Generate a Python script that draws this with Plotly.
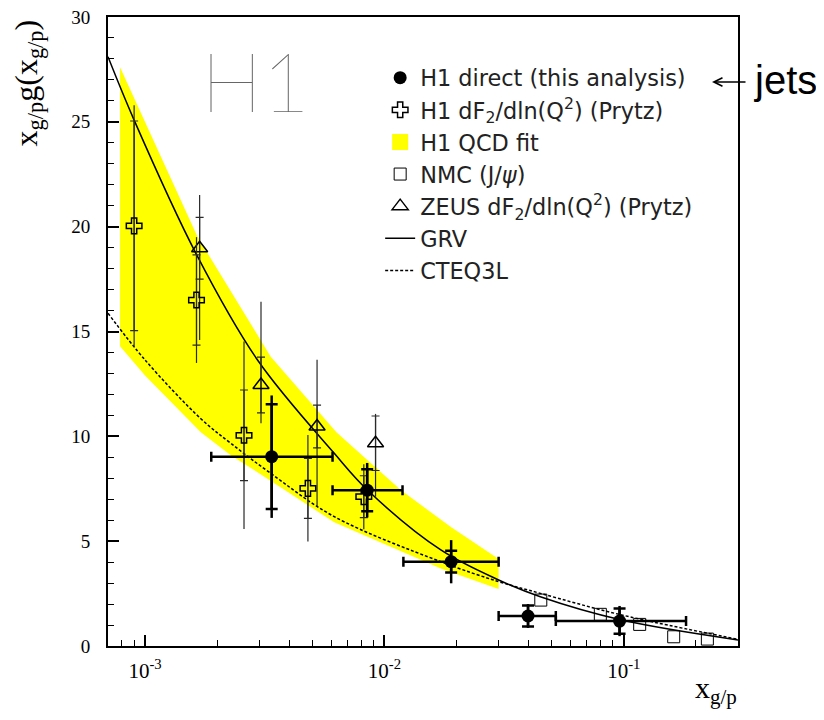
import plotly.graph_objects as go

# ---------------- data ----------------
# H1 direct (this analysis)
h1d_x = [3.38e-3, 8.47e-3, 1.90e-2, 3.98e-2, 9.6e-2]
h1d_y = [9.03, 7.43, 4.02, 1.43, 1.19]
h1d_xlo = [1.89e-3, 6.07e-3, 1.20e-2, 3.0e-2, 5.2e-2]
h1d_xhi = [6.07e-3, 1.19e-2, 3.0e-2, 5.2e-2, 1.82e-1]
h1d_stat = [2.5, 1.0, 0.52, 0.5, 0.6]
h1d_tot = [2.92, 1.3, 1.03, 0.57, 0.72]

# H1 dF2/dln(Q2) (Prytz)
h1p_x = [9.0e-4, 1.64e-3, 2.59e-3, 4.79e-3, 8.2e-3]
h1p_y = [20.04, 16.5, 10.05, 7.52, 7.12]
h1p_stat = [5.0, 2.15, 2.16, 1.43, 1.0]
h1p_tot = [5.75, 3.0, 4.47, 2.54, 1.55]

# ZEUS dF2/dln(Q2) (Prytz)
zeus_x = [1.69e-3, 3.05e-3, 5.23e-3, 9.18e-3]
zeus_y = [18.97, 12.45, 10.47, 9.67]
zeus_stat = [1.47, 1.33, 1.02, 1.3]
zeus_tot_plus = [2.54, 3.97, 3.18, 1.4]
zeus_tot_minus = [4.38, 1.83, 3.82, 2.55]

# NMC (J/psi)
nmc_x = [0.045, 0.0798, 0.1165, 0.1616, 0.2234]
nmc_y = [2.19, 1.51, 1.03, 0.44, 0.33]

# H1 QCD fit band
band_up_x = [7.86e-4, 1.656e-3, 3.35e-3, 6.3e-3, 1.17e-2, 1.895e-2, 3.0e-2]
band_up_y = [27.6, 19.52, 13.8, 10.2, 7.44, 5.67, 4.15]
band_lo_x = [7.86e-4, 1.0e-3, 1.71e-3, 2.28e-3, 3.38e-3, 6.17e-3, 1.72e-2, 3.0e-2]
band_lo_y = [14.3, 12.9, 10.2, 9.1, 7.85, 5.9, 3.7, 2.72]

# GRV curve
grv_x = [7.0e-4, 9.0e-4, 1.63e-3, 2.95e-3, 6.17e-3, 8.49e-3, 1.72e-2, 3.0e-2, 4.48e-2, 9.8e-2, 0.30]
grv_y = [28.1, 25.08, 18.73, 13.64, 9.19, 7.44, 4.58, 3.15, 2.35, 1.24, 0.29]

# CTEQ3L curve
cteq_x = [7.0e-4, 1.0e-3, 1.71e-3, 2.28e-3, 3.38e-3, 6.17e-3, 1.72e-2, 3.0e-2, 4.48e-2, 9.8e-2, 0.30]
cteq_y = [15.87, 13.64, 10.84, 9.67, 8.2, 6.17, 4.02, 3.07, 2.51, 1.48, 0.32]

# axis ticks
x_tickvals = [1e-3, 1e-2, 1e-1]
x_ticktext = ["10<sup>-3</sup>", "10<sup>-2</sup>", "10<sup>-1</sup>"]
y_tickvals = [0, 5, 10, 15, 20, 25, 30]

# ---------------- figure ----------------
SERIF = "Liberation Serif, Times New Roman, serif"
LEG = "DejaVu Sans, sans-serif"
thin = "#2a2a2a"

fig = go.Figure()

# yellow band
fig.add_trace(go.Scatter(
    x=band_up_x + band_lo_x[::-1], y=band_up_y + band_lo_y[::-1],
    mode="lines", fill="toself", fillcolor="#FFFF00",
    line=dict(width=0, color="#FFFF00"),
    showlegend=False, hoverinfo="skip"))
# legend entry for the band (legend only, no data)
fig.add_trace(go.Scatter(x=[None], y=[None], mode="markers",
                         marker=dict(symbol="square", size=17, color="#FFFF00"),
                         name="H1 QCD fit", legendgroup="g3", legendrank=3))

# curves
fig.add_trace(go.Scatter(x=grv_x, y=grv_y, mode="lines", line_shape="spline",
                         line=dict(color="black", width=1.5),
                         name="GRV", legendgroup="g6", legendrank=6))
fig.add_trace(go.Scatter(x=cteq_x, y=cteq_y, mode="lines", line_shape="spline",
                         line=dict(color="black", width=1.5, dash="3px,2px"),
                         name="CTEQ3L", legendgroup="g7", legendrank=7))

# NMC
fig.add_trace(go.Scatter(x=nmc_x, y=nmc_y, mode="markers",
                         marker=dict(symbol="square-open", size=12, color="black",
                                     line=dict(width=1)),
                         name="NMC (J/<i>ψ</i>)", legendgroup="g4", legendrank=4))

invis = dict(size=1, color="rgba(0,0,0,0)")

# ZEUS
fig.add_trace(go.Scatter(x=zeus_x, y=zeus_y, mode="markers", marker=invis, showlegend=False,
                         error_y=dict(type="data", array=zeus_tot_plus, arrayminus=zeus_tot_minus,
                                      color=thin, thickness=1.2, width=0)))
fig.add_trace(go.Scatter(x=zeus_x, y=zeus_y, mode="markers",
                         marker=dict(symbol="triangle-up-open", size=14, color="black",
                                     line=dict(width=1.5)),
                         error_y=dict(type="data", array=zeus_stat, color=thin,
                                      thickness=1.2, width=4),
                         name="ZEUS dF<sub>2</sub>/dln(Q<sup>2</sup>) (Prytz)",
                         legendgroup="g5", legendrank=5))

# H1 Prytz
fig.add_trace(go.Scatter(x=h1p_x, y=h1p_y, mode="markers", marker=invis, showlegend=False,
                         error_y=dict(type="data", array=h1p_tot, color=thin,
                                      thickness=1.2, width=0)))
fig.add_trace(go.Scatter(x=h1p_x, y=h1p_y, mode="markers",
                         marker=dict(symbol="cross-open", size=13, color="black",
                                     line=dict(width=1.5)),
                         error_y=dict(type="data", array=h1p_stat, color=thin,
                                      thickness=1.2, width=4),
                         name="H1 dF<sub>2</sub>/dln(Q<sup>2</sup>) (Prytz)",
                         legendgroup="g2", legendrank=2))

# H1 direct
xe_plus = [hi - x for hi, x in zip(h1d_xhi, h1d_x)]
xe_minus = [x - lo for lo, x in zip(h1d_xlo, h1d_x)]
fig.add_trace(go.Scatter(x=h1d_x, y=h1d_y, mode="markers", marker=invis, showlegend=False,
                         error_y=dict(type="data", array=h1d_tot, color="black",
                                      thickness=2.5, width=0)))
fig.add_trace(go.Scatter(x=h1d_x, y=h1d_y, mode="markers",
                         marker=dict(symbol="circle", size=13, color="black"),
                         error_y=dict(type="data", array=h1d_stat, color="black",
                                      thickness=2.5, width=6),
                         error_x=dict(type="data", array=xe_plus, arrayminus=xe_minus,
                                      color="black", thickness=2.5, width=5),
                         name="H1 direct (this analysis)", legendgroup="g1", legendrank=1))

# minor tick positions for the log axis
minor_x = [k * 10.0 ** n for n in range(-4, 0) for k in range(2, 10)]

# page has an 8px body margin: figure is placed at (8, 8) in the window
fig.update_layout(
    template="none",
    width=808, height=704,
    margin=dict(l=100, r=78, t=9, b=66, autoexpand=False),
    paper_bgcolor="white", plot_bgcolor="white",
    showlegend=True,
    legend=dict(x=0.432, y=0.937, xanchor="left", yanchor="top",
                bgcolor="rgba(0,0,0,0)", borderwidth=0,
                font=dict(family=LEG, size=22.4, color="#222"),
                tracegroupgap=0, itemsizing="trace"),
    xaxis=dict(type="log", range=[-3.1549, -0.5229], automargin=False,
               showgrid=False, zeroline=False,
               showline=True, linecolor="black", linewidth=2, mirror=True,
               ticks="inside", ticklen=11, tickwidth=1.5, tickcolor="black",
               tickmode="array", tickvals=x_tickvals, ticktext=x_ticktext,
               tickfont=dict(family=SERIF, size=21, color="black"),
               ticklabelstandoff=5, ticklabeloverflow="allow",
               minor=dict(tickmode="array", tickvals=minor_x, ticks="inside",
                          ticklen=6, tickwidth=1, tickcolor="black", showgrid=False)),
    yaxis=dict(range=[0, 30], automargin=False, showgrid=False, zeroline=False,
               showline=True, linecolor="black", linewidth=2, mirror=True,
               ticks="inside", ticklen=11, tickwidth=1.5, tickcolor="black",
               tickmode="array", tickvals=y_tickvals,
               tickfont=dict(family=SERIF, size=19, color="black"),
               ticklabelstandoff=12, ticklabeloverflow="allow",
               minor=dict(dtick=1, ticks="inside", ticklen=6, tickwidth=1,
                          tickcolor="black", showgrid=False)),
)

# axis titles
fig.add_annotation(xref="paper", yref="paper", x=-0.127, y=0.896,
                   text="x<sub>g/p</sub>g(x<sub>g/p</sub>)", textangle=-90,
                   showarrow=False, xanchor="center", yanchor="middle",
                   font=dict(family=SERIF, size=32, color="black"))
fig.add_annotation(xref="paper", yref="paper", x=0.9286, y=-0.1035,
                   text="x<sub>g/p</sub>", showarrow=False,
                   xanchor="left", yanchor="bottom",
                   font=dict(family=SERIF, size=30, color="black"))

# H1 logo
fig.add_annotation(xref="paper", yref="paper", x=0.234, y=0.90,
                   text="H1", showarrow=False, xanchor="center", yanchor="middle",
                   font=dict(family="Lato, sans-serif", size=82, color="#666", weight=100))

# arrow + jets
fig.add_annotation(xref="paper", yref="paper", x=(712 - 108) / 630, y=1 - (82 - 17) / 629,
                   text="", showarrow=True, ax=35, ay=0, arrowhead=5, arrowsize=1.3,
                   arrowwidth=1.3, arrowcolor="black")
fig.add_annotation(xref="paper", yref="paper", x=(752 - 108) / 630, y=1 - (80 - 17) / 629,
                   text="jets", showarrow=False, xanchor="left", yanchor="middle",
                   font=dict(family="Liberation Sans, Arial, sans-serif", size=40, color="black"))

fig.write_html("out.html")
